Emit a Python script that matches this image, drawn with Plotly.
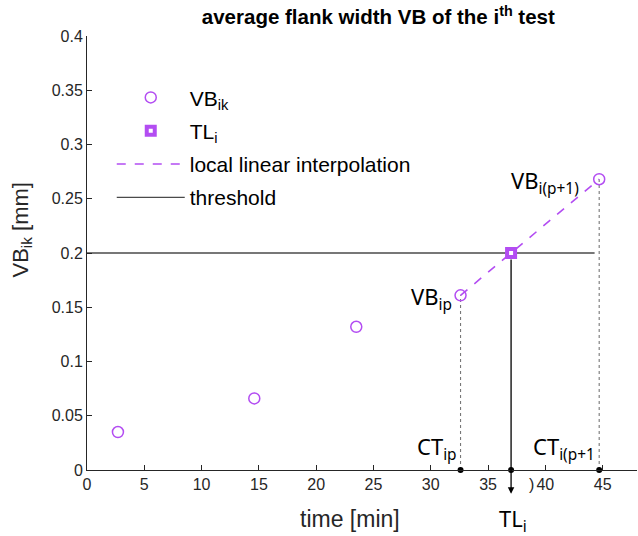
import plotly.graph_objects as go

# data
time_min = [2.7, 14.6, 23.5, 32.6, 44.7]
vb_mm = [0.035, 0.066, 0.132, 0.161, 0.268]
ct_ip, vb_ip = 32.6, 0.161
ct_ip1, vb_ip1 = 44.7, 0.268
threshold = 0.2
tl_i = ct_ip + (threshold - vb_ip) * (ct_ip1 - ct_ip) / (vb_ip1 - vb_ip)
threshold_x = [0, 44.3]
x_ticks = [0, 5, 10, 15, 20, 25, 30, 35, 40, 45]
y_ticks = [0, 0.05, 0.1, 0.15, 0.2, 0.25, 0.3, 0.35, 0.4]

PURPLE = '#B34DF2'
AX = '#262626'

fig = go.Figure()

# dotted guide lines
fig.add_trace(go.Scatter(x=[ct_ip, ct_ip], y=[0, vb_ip], mode='lines',
                         line=dict(color='#777777', width=1.1, dash='dot'),
                         showlegend=False, hoverinfo='skip'))
fig.add_trace(go.Scatter(x=[ct_ip1, ct_ip1], y=[0, vb_ip1], mode='lines',
                         line=dict(color='#777777', width=1.1, dash='dot'),
                         showlegend=False, hoverinfo='skip'))

# threshold
fig.add_trace(go.Scatter(x=threshold_x, y=[threshold, threshold], mode='lines',
                         line=dict(color='#4a4a4a', width=1.3),
                         name='threshold', legendgroup='d', legendrank=4))

# interpolation
fig.add_trace(go.Scatter(x=[ct_ip, ct_ip1], y=[vb_ip, vb_ip1], mode='lines',
                         line=dict(color=PURPLE, width=1.6, dash='dash'),
                         name='local linear interpolation', legendgroup='c', legendrank=3))

# VB points
fig.add_trace(go.Scatter(x=time_min, y=vb_mm, mode='markers',
                         marker=dict(symbol='circle-open', size=11, color=PURPLE,
                                     line=dict(width=1.5, color=PURPLE)),
                         name='VB<sub>ik</sub>', legendgroup='a', legendrank=1))

# black dots on axis
fig.add_trace(go.Scatter(x=[ct_ip, tl_i, ct_ip1], y=[0, 0, 0], mode='markers',
                         marker=dict(size=6, color='black'), cliponaxis=False,
                         showlegend=False, hoverinfo='skip'))

# TL marker
fig.add_trace(go.Scatter(x=[tl_i], y=[threshold], mode='markers',
                         marker=dict(symbol='square', size=8, color='white',
                                     line=dict(width=4, color=PURPLE)),
                         name='TL<sub>i</sub>', legendgroup='b', legendrank=2))

anfont = dict(family='Noto Sans', size=22, color='black')
ann = [
    dict(x=tl_i, y=-0.022, ax=tl_i, ay=threshold, xref='x', yref='y', axref='x', ayref='y',
         showarrow=True, arrowhead=2, arrowsize=1, arrowwidth=1.3, arrowcolor='black',
         startstandoff=5, text=''),
    dict(x=tl_i, y=-0.115, xref='x', yref='paper', text='TL<sub>i</sub>', showarrow=False,
         xanchor='center', yanchor='middle', xshift=2, font=anfont),
    dict(x=ct_ip, y=vb_ip, text='VB<sub>ip</sub>', showarrow=False, xanchor='right',
         yanchor='middle', xshift=-7, yshift=-3, font=anfont),
    dict(x=ct_ip1, y=vb_ip1, text='VB<sub>i(p+1)</sub>', showarrow=False, xanchor='right',
         yanchor='middle', xshift=-18, yshift=-3, font=anfont),
    dict(x=ct_ip, y=0.023, text='CT<sub>ip</sub>', showarrow=False, xanchor='right',
         yanchor='middle', xshift=-2, yshift=-3, font=anfont),
    dict(x=ct_ip1, y=0.023, text='CT<sub>i(p+1</sub>', showarrow=False, xanchor='right',
         yanchor='middle', xshift=-2, yshift=-3, font=anfont),
    dict(x=38.75, y=0, text=')', showarrow=False, xanchor='center', yanchor='top',
         yshift=-4, font=dict(family='Liberation Sans', size=16, color=AX)),
    # axis titles
    dict(x=0.478, y=-0.113, xref='paper', yref='paper', text='time [min]', showarrow=False,
         xanchor='center', yanchor='middle',
         font=dict(family='Liberation Sans', size=23, color=AX)),
    dict(x=-0.119, y=0.553, xref='paper', yref='paper', text='VB<sub>ik</sub> [mm]',
         showarrow=False, textangle=-90, xanchor='center', yanchor='middle',
         font=dict(family='Liberation Sans', size=22, color=AX)),
]

fig.update_layout(
    width=638, height=536,
    margin=dict(l=87, r=1, t=36, b=66),
    plot_bgcolor='white', paper_bgcolor='white',
    title=dict(text='<b>average flank width VB of the i<sup>th</sup> test</b>',
               x=0.593, xanchor='center', y=0.968, yanchor='middle',
               font=dict(family='Liberation Sans', size=20.5, color='black')),
    xaxis=dict(range=[0, 48], tickvals=x_ticks, ticks='inside', ticklen=5,
               showline=True, linecolor=AX, linewidth=1, tickcolor=AX,
               showgrid=False, zeroline=False,
               tickfont=dict(family='Liberation Sans', size=16, color=AX)),
    yaxis=dict(range=[0, 0.4], tickvals=y_ticks, ticks='inside', ticklen=5,
               showline=True, linecolor=AX, linewidth=1, tickcolor=AX,
               showgrid=False, zeroline=False,
               tickfont=dict(family='Liberation Sans', size=16, color=AX)),
    legend=dict(x=0.045, y=0.905, xanchor='left', yanchor='top',
                bgcolor='rgba(0,0,0,0)', itemwidth=68, tracegroupgap=3,
                traceorder='grouped',
                font=dict(family='Liberation Sans', size=21, color='black')),
    annotations=ann,
)

fig.write_html('out.html')
